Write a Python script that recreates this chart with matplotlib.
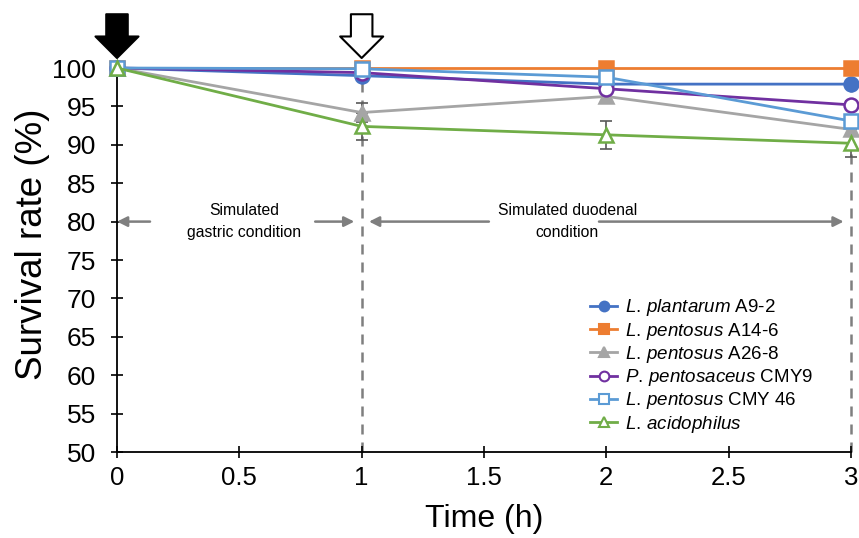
import matplotlib
matplotlib.use("Agg")
import matplotlib.pyplot as plt
from matplotlib.lines import Line2D

plt.rcParams['font.family'] = ['Liberation Sans', 'DejaVu Sans']
plt.rcParams['mathtext.fontset'] = 'custom'
plt.rcParams['mathtext.it'] = 'Liberation Sans:italic'
plt.rcParams['mathtext.rm'] = 'Liberation Sans'

time = [0, 1, 2, 3]
labels = [r'$\it{L.\,plantarum}$ A9-2',
          r'$\it{L.\,pentosus}$ A14-6',
          r'$\it{L.\,pentosus}$ A26-8',
          r'$\it{P.\,pentosaceus}$ CMY9',
          r'$\it{L.\,pentosus}$ CMY 46',
          r'$\it{L.\,acidophilus}$']
plantarum_a92 = [100, 99.0, 97.9, 97.9]
pentosus_a146 = [100, 100, 100, 100]
pentosus_a268 = [100, 94.2, 96.3, 92.0]
pentosaceus_cmy9 = [100, 99.4, 97.3, 95.2]
pentosus_cmy46 = [100, 99.9, 98.8, 93.1]
acidophilus = [100, 92.4, 91.3, 90.2]
err_plantarum = [0, 0.3, 0.2, 0.3]
err_a146 = [0, 0, 0, 0.2]
err_a268 = [0, 1.2, 0.8, 0.8]
err_cmy9 = [0, 0.3, 0.4, 0.5]
err_cmy46 = [0, 0.2, 0.3, 0.6]
err_acid = [0, 1.8, 1.8, 1.8]

series = [plantarum_a92, pentosus_a146, pentosus_a268, pentosaceus_cmy9, pentosus_cmy46, acidophilus]
errors = [err_plantarum, err_a146, err_a268, err_cmy9, err_cmy46, err_acid]
colors = ['#4472C4', '#ED7D31', '#A5A5A5', '#7030A0', '#5B9BD5', '#70AD47']
markers = ['o', 's', '^', 'o', 's', '^']
filled = [True, True, True, False, False, False]

fig = plt.figure(figsize=(8.59, 5.38), dpi=100)
ax = fig.add_axes([117/859, (538-452)/538, (851-117)/859, (452-68)/538])

ax.set_xlim(0, 3)
ax.set_ylim(50, 100)

# dashed vertical lines
for xv in [1, 3]:
    ax.plot([xv, xv], [50, 101.2], color='#7F7F7F', lw=1.8, ls=(0, (4, 3.2)),
            clip_on=False, zorder=1)

handles = []
for ys, es, c, m, f, lab in zip(series, errors, colors, markers, filled, labels):
    ax.errorbar(time, ys, yerr=es, fmt='none', ecolor='#595959', elinewidth=1.2,
                capsize=4, capthick=1.2, clip_on=False, zorder=2)
    ms = 10 if m == 'o' else 10.5
    ax.plot(time, ys, color=c, lw=2, marker=m, ms=ms,
            mfc=c if f else 'white', mec=c, mew=1.8, clip_on=False, zorder=3)
    handles.append(Line2D([], [], color=c, lw=2, marker=m, ms=7,
                          mfc=c if f else 'white', mec=c, mew=1.5, label=lab))

leg = ax.legend(handles=handles, loc='lower left', bbox_to_anchor=(0.645, 0.045),
                frameon=False, fontsize=13.5, handlelength=1.4, handletextpad=0.45,
                labelspacing=0.12, borderaxespad=0, borderpad=0)

# horizontal condition arrows
acol = '#7F7F7F'
aprops = dict(arrowstyle='-|>,head_length=0.6,head_width=0.3', color=acol, lw=1.8,
              shrinkA=0, shrinkB=0)
ax.annotate('', xy=(0.0, 80), xytext=(0.135, 80), arrowprops=aprops, annotation_clip=False)
ax.annotate('', xy=(0.97, 80), xytext=(0.81, 80), arrowprops=aprops)
ax.annotate('', xy=(1.03, 80), xytext=(1.52, 80), arrowprops=aprops)
ax.annotate('', xy=(2.97, 80), xytext=(1.97, 80), arrowprops=aprops)
ax.text(0.52, 80, 'Simulated\ngastric condition', ha='center', va='center',
        fontsize=11.3, linespacing=1.55)
ax.text(1.84, 80, 'Simulated duodenal\ncondition', ha='center', va='center',
        fontsize=11.3, linespacing=1.55)

# big arrows at top
big = dict(arrowstyle='simple,head_length=1.0,head_width=2.0,tail_width=1.0',
           mutation_scale=15.5, shrinkA=0, shrinkB=0, lw=1.5)
ax.annotate('', xy=(0, 101.3), xytext=(0, 107.0),
            arrowprops=dict(fc='black', ec='black', **big), annotation_clip=False)
ax.annotate('', xy=(1, 101.3), xytext=(1, 107.0),
            arrowprops=dict(fc='white', ec='black', **big), annotation_clip=False)

ax.spines['top'].set_visible(False)
ax.spines['right'].set_visible(False)
for s in ['left', 'bottom']:
    ax.spines[s].set_linewidth(1.3)

ax.set_xticks([0, 0.5, 1, 1.5, 2, 2.5, 3])
ax.set_xticklabels(['0', '0.5', '1', '1.5', '2', '2.5', '3'])
ax.set_yticks(list(range(50, 101, 5)))
ax.tick_params(axis='both', direction='inout', length=8, width=1.2)
ax.tick_params(axis='y', pad=11, labelsize=19)
ax.tick_params(axis='x', pad=6, labelsize=18.5)

ax.set_ylabel('Survival rate (%)', fontsize=26.5)
ax.yaxis.set_label_coords(-0.091, 0.542)
ax.set_xlabel('Time (h)', fontsize=23, labelpad=10)

fig.savefig('out.png', dpi=100)
